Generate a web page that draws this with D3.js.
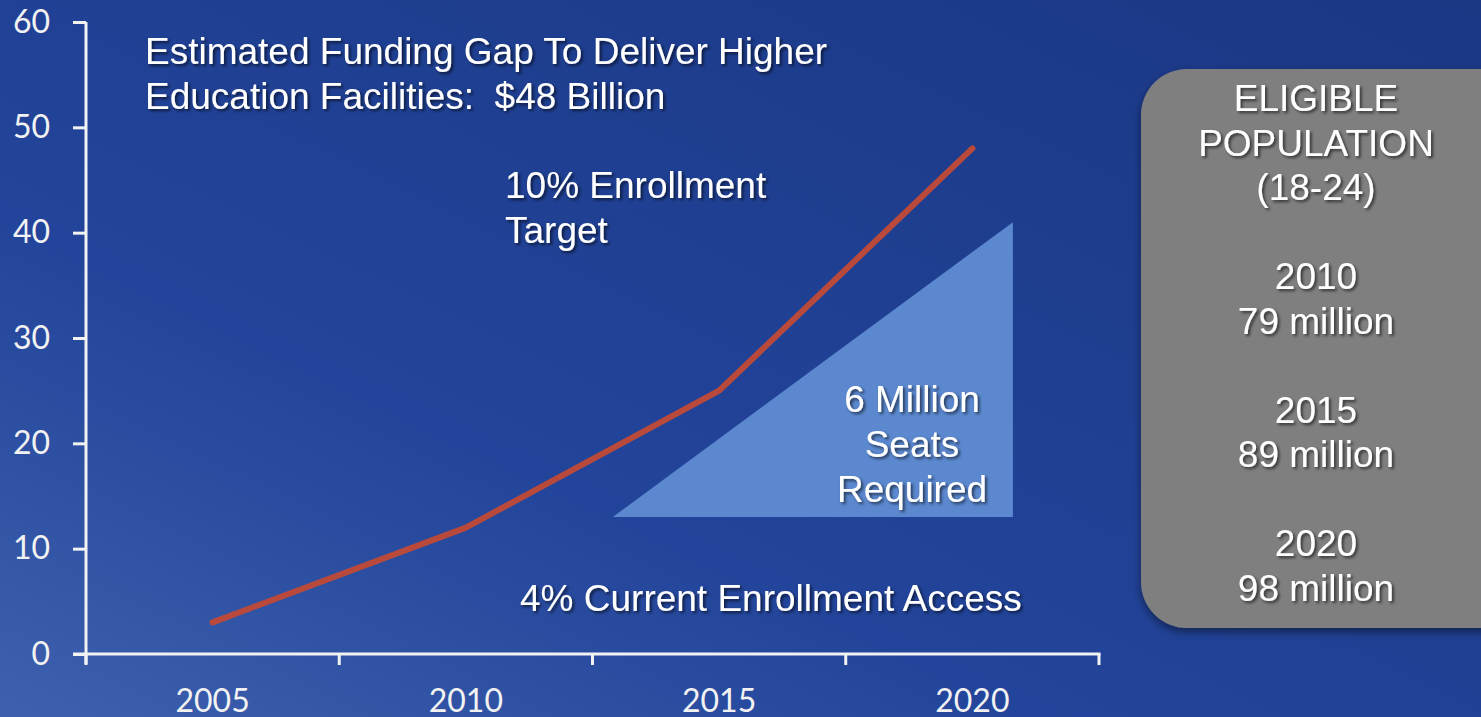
<!DOCTYPE html>
<html>
<head>
<meta charset="utf-8">
<script src="https://cdn.jsdelivr.net/npm/d3@7"></script>
<style>
  html, body { margin: 0; padding: 0; overflow: hidden; }
  svg { display: block; }
</style>
</head>
<body>
<svg width="1481" height="717"></svg>
<script>
// data
var years = ['2005', '2010', '2015', '2020'];
var fundingGap = [3, 12, 25, 48];          // $ billion, 10% enrollment target line
var yTicks = [0, 10, 20, 30, 40, 50, 60];
// "6 Million Seats Required" wedge, in (year, value) units
var seatsYears = [2012.9, 2020.8, 2020.8];
var seatsValues = [13, 41, 13];
var titleLines = ['Estimated Funding Gap To Deliver Higher', 'Education Facilities:\u00a0 $48 Billion'];
var targetLines = ['10% Enrollment', 'Target'];
var seatsLines = ['6 Million', 'Seats', 'Required'];
var accessLabel = '4% Current Enrollment Access';
var popLines = ['ELIGIBLE', 'POPULATION', '(18-24)', '', '2010', '79 million', '', '2015', '89 million', '', '2020', '98 million'];

var svg = d3.select('svg');
var width = 1481, height = 717;
var margin = {top: 22, bottom: 63, left: 86, right: 382};
var innerWidth = width - margin.left - margin.right;
var innerHeight = height - margin.top - margin.bottom;

// background gradient
var defs = svg.append('defs');
var grad = defs.append('linearGradient').attr('id', 'bg')
  .attr('x1', '0%').attr('y1', '100%').attr('x2', '100%').attr('y2', '0%');
grad.append('stop').attr('offset', '0%').attr('stop-color', '#3e60ae');
grad.append('stop').attr('offset', '35%').attr('stop-color', '#22449a');
grad.append('stop').attr('offset', '100%').attr('stop-color', '#1a3784');

var shadow = defs.append('filter').attr('id', 'shadow')
  .attr('x', '-10%').attr('y', '-20%').attr('width', '130%').attr('height', '150%');
shadow.append('feDropShadow').attr('dx', 2).attr('dy', 2).attr('stdDeviation', 1.4)
  .attr('flood-color', '#000').attr('flood-opacity', 0.6);

var boxShadow = defs.append('filter').attr('id', 'boxshadow')
  .attr('x', '-10%').attr('y', '-10%').attr('width', '130%').attr('height', '130%');
boxShadow.append('feDropShadow').attr('dx', 0).attr('dy', 4).attr('stdDeviation', 4)
  .attr('flood-color', '#000').attr('flood-opacity', 0.45);

svg.append('rect').attr('width', width).attr('height', height).attr('fill', 'url(#bg)');

//scales
var xScale = d3.scaleBand().domain(years).range([0, innerWidth]).padding(0);
var xLin = d3.scaleLinear().domain([2002.5, 2022.5]).range([0, innerWidth]);
var yScale = d3.scaleLinear().domain([0, 60]).range([innerHeight, 0]);

var g = svg.append('g')
  .attr('transform', 'translate(' + margin.left + ',' + margin.top + ')');

// seats wedge
var wedge = seatsYears.map((d, i) => [xLin(d), yScale(seatsValues[i])]);
g.append('path')
  .attr('d', d3.line()(wedge) + 'Z')
  .attr('fill', '#5b88cf');

// y axis
var yAxis = d3.axisLeft(yScale).tickValues(yTicks).tickSize(13).tickPadding(23);
var ya = g.append('g').call(yAxis);
ya.select('.domain').remove();
ya.append('line').attr('x1', 0).attr('x2', 0).attr('y1', yScale(60)).attr('y2', yScale(0) + 10)
  .attr('stroke', '#f2f2f2').attr('stroke-width', 3);
ya.selectAll('.tick line').attr('stroke', '#f2f2f2').attr('stroke-width', 3);
ya.selectAll('.tick text').attr('fill', '#f2f2f2')
  .style('font-family', 'Lato, "Open Sans", sans-serif').style('font-size', '32px');

// x axis, ticks sit on the band edges
var xAxis = d3.axisBottom(xScale).tickSize(0).tickPadding(35);
var xa = g.append('g').attr('transform', 'translate(0,' + innerHeight + ')').call(xAxis);
xa.select('.domain').remove();
xa.append('line').attr('x1', -13).attr('x2', innerWidth + 1.5).attr('y1', 0).attr('y2', 0)
  .attr('stroke', '#f2f2f2').attr('stroke-width', 3);
var edges = years.map(d => xScale(d)).concat([innerWidth]);
xa.selectAll('.edge').data(edges).enter().append('line')
  .attr('x1', d => d).attr('x2', d => d).attr('y1', 0).attr('y2', 11)
  .attr('stroke', '#f2f2f2').attr('stroke-width', 3);
xa.selectAll('.tick text').attr('fill', '#f2f2f2')
  .style('font-family', 'Lato, "Open Sans", sans-serif').style('font-size', '32px');

// funding gap line
var line = d3.line()
  .x((d, i) => xScale(years[i]) + xScale.bandwidth() / 2)
  .y(d => yScale(d));
g.append('path').datum(fundingGap)
  .attr('d', line)
  .attr('fill', 'none')
  .attr('stroke', '#b94a3b')
  .attr('stroke-width', 6)
  .attr('stroke-linecap', 'round')
  .attr('stroke-linejoin', 'round');

// annotations
function textBlock(lines, x, y, anchor, lh) {
  var t = svg.append('text')
    .attr('x', x).attr('y', y)
    .attr('text-anchor', anchor)
    .attr('fill', '#ffffff')
    .attr('filter', 'url(#shadow)')
    .style('font-family', '"Liberation Sans", Arial, sans-serif')
    .style('font-size', '37px');
  lines.forEach((s, i) => {
    t.append('tspan').attr('x', x).attr('y', y + i * lh).text(s);
  });
  return t;
}

textBlock(titleLines, 145, 64, 'start', 45);
textBlock(targetLines, 505, 198, 'start', 45);
textBlock(seatsLines, 912, 412, 'middle', 45);
textBlock([accessLabel], 520, 611, 'start', 45);

// eligible population box
svg.append('rect')
  .attr('x', 1141).attr('y', 69).attr('width', 400).attr('height', 559)
  .attr('rx', 46).attr('ry', 46)
  .attr('fill', '#7f7f7f')
  .attr('filter', 'url(#boxshadow)');
var popText = textBlock(popLines.filter(d => d !== ''), 1316, 111, 'middle', 44.5);
// re-space the groups (blank lines between them)
var yPos = 111;
var k = 0;
popLines.forEach(s => {
  if (s === '') { yPos += 44.5; return; }
  popText.selectAll('tspan').filter((d, i) => i === k).attr('y', yPos);
  k += 1;
  yPos += 44.5;
});
</script>
</body>
</html>
